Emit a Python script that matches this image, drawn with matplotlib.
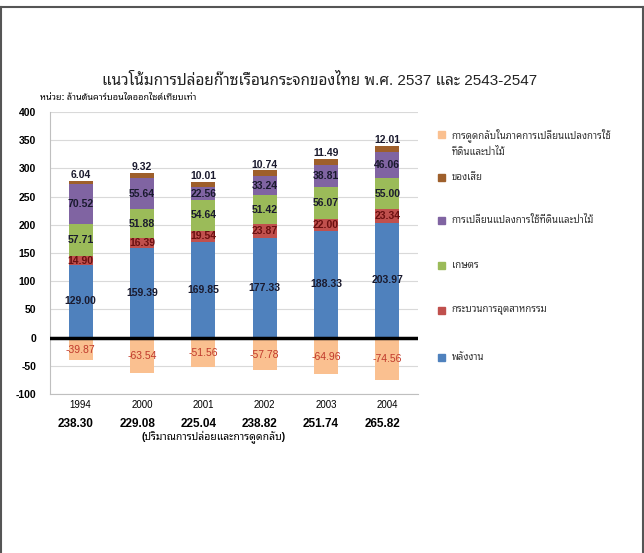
import numpy as np
import matplotlib
matplotlib.use('Agg')
import matplotlib.pyplot as plt
from matplotlib.patches import Rectangle
from matplotlib.lines import Line2D

# ฟอนต์: ตัวเลขใช้ Liberation Sans ส่วนภาษาไทยใช้ Noto Sans Thai Looped
plt.rcParams['font.family'] = ['Liberation Sans', 'Noto Sans Thai Looped']
plt.rcParams['axes.unicode_minus'] = False

# ===== ข้อมูล =====
years = ['1994', '2000', '2001', '2002', '2003', '2004']
energy = [129.00, 159.39, 169.85, 177.33, 188.33, 203.97]
industry = [14.90, 16.39, 19.54, 23.87, 22.00, 23.34]
agriculture = [57.71, 51.88, 54.64, 51.42, 56.07, 55.00]
landuse = [70.52, 55.64, 22.56, 33.24, 38.81, 46.06]
waste = [6.04, 9.32, 10.01, 10.74, 11.49, 12.01]
removal = [-39.87, -63.54, -51.56, -57.78, -64.96, -74.56]
net_total = ['238.30', '229.08', '225.04', '238.82', '251.74', '265.82']

names = ['พลังงาน', 'กระบวนการอุตสาหกรรม', 'เกษตร',
         'การเปลี่ยนแปลงการใช้ที่ดินและป่าไม้', 'ของเสีย',
         'การดูดกลับในภาคการเปลี่ยนแปลงการใช้\nที่ดินและป่าไม้']
colors = ['#4F81BD', '#C0504D', '#9BBB59', '#8064A2', '#9E5F2B', '#FAC090']

W, H = 644, 553
fig = plt.figure(figsize=(W / 100, H / 100), dpi=100)
ax = fig.add_axes([50 / W, 1 - 394 / H, 368 / W, 282 / H])

x = np.arange(len(years))
bw = 0.39

# เส้นตาราง
ax.set_ylim(-100, 400)
ax.set_xlim(-0.5, len(years) - 0.5)
ax.set_yticks(np.arange(-100, 401, 50))
ax.yaxis.grid(True, color='#D9D9D9', lw=0.8)
ax.set_axisbelow(True)
for s in ['top', 'right']:
    ax.spines[s].set_visible(False)
ax.spines['left'].set_color('#BFBFBF')
ax.spines['bottom'].set_color('#BFBFBF')
ax.tick_params(axis='both', length=0)
ax.tick_params(axis='y', pad=10)
for lab in ax.get_yticklabels():
    lab.set_fontweight('bold')
    lab.set_fontsize(7.5)
ax.set_xticks(x)
ax.set_xticklabels(years, fontsize=7)
ax.tick_params(axis='x', pad=4)

# แท่งซ้อน
series = [energy, industry, agriculture, landuse, waste]
label_colors = ['#1A1A2E', '#6B1010', '#1A1A2E', '#1A1A2E', '#1A1A2E']
bottom = np.zeros(len(years))
for i, (vals, c, lc) in enumerate(zip(series, colors[:5], label_colors)):
    vals = np.array(vals)
    ax.bar(x, vals, bw, bottom=bottom, color=c, zorder=2)
    for xi, b, v in zip(x, bottom, vals):
        if i == 4:
            # ของเสียเขียนตัวเลขไว้เหนือแท่ง
            ax.text(xi, b + v + 1, '%.2f' % v, ha='center', va='bottom',
                    fontsize=7.5, fontweight='bold', color=lc, zorder=4)
        else:
            ax.text(xi, b + v / 2, '%.2f' % v, ha='center', va='center',
                    fontsize=7.5, fontweight='bold', color=lc, zorder=4)
    bottom = bottom + vals

# การดูดกลับ (ค่าติดลบ)
ax.bar(x, removal, bw, color=colors[5], zorder=2)
for xi, v in zip(x, removal):
    ax.text(xi, v / 2 - 1.5, '%.2f' % v, ha='center', va='center',
            fontsize=7.5, color='#C0392B', zorder=4)

# เส้นศูนย์
ax.axhline(0, color='black', lw=2.5, zorder=3)

# ปริมาณสุทธิใต้แกน x
for xi, t in zip(x, net_total):
    ax.text(xi - 0.08, -0.085, t, transform=ax.get_xaxis_transform(),
            ha='center', va='top', fontsize=8.5, fontweight='bold')
fig.text(214 / W, 1 - 437 / H, '(ปริมาณการปล่อยและการดูดกลับ)',
         ha='center', va='center', fontsize=7.5, fontweight='bold')

# หัวเรื่อง
fig.text(320 / W, 1 - 80 / H,
         'แนวโน้มการปล่อยก๊าซเรือนกระจกของไทย พ.ศ. 2537 และ 2543-2547',
         ha='center', va='center', fontsize=11, color='#222222')
fig.text(40 / W, 1 - 97 / H, 'หน่วย: ล้านตันคาร์บอนไดออกไซด์เทียบเท่า',
         ha='left', va='center', fontsize=6.5, fontweight='bold')

# คำอธิบายสัญลักษณ์
leg_y = [357, 310, 265, 220, 177, 134]
for name, c, yy in zip(names, colors, leg_y):
    fig.patches.append(Rectangle((438 / W, 1 - (yy + 3.5) / H), 7 / W, 7 / H,
                                 transform=fig.transFigure, color=c))
    if '\n' in name:
        fig.text(452 / W, 1 - (yy - 6) / H, name, ha='left', va='top',
                 fontsize=7, fontweight='bold', color='#333333', linespacing=1.6)
    else:
        fig.text(452 / W, 1 - yy / H, name, ha='left', va='center',
                 fontsize=7, fontweight='bold', color='#333333')

# กรอบรอบภาพ
for xs, ys in [([1, 643], [7, 7]), ([1, 1], [7, 553]), ([643, 643], [7, 553])]:
    fig.add_artist(Line2D([v / W for v in xs], [1 - v / H for v in ys],
                          color='#555555', lw=1.5, transform=fig.transFigure))

fig.savefig('out.png', dpi=100, facecolor='white')
